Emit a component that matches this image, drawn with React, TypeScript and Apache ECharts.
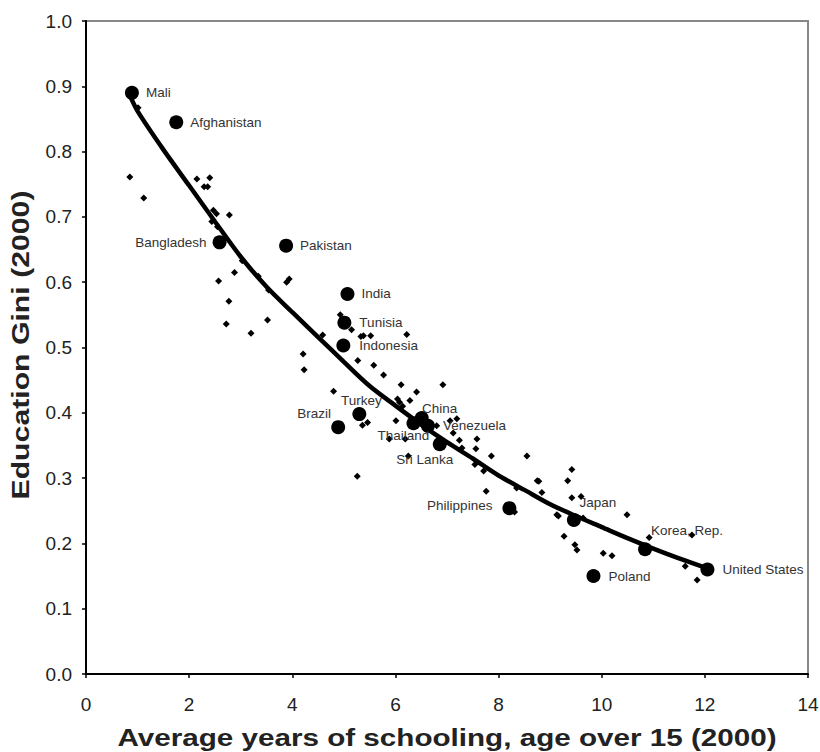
import React, { useEffect, useRef } from "react";
import * as echarts from "echarts";

// Highlighted countries: average years of schooling vs. education Gini, 2000
const countryNames = [
  "Mali", "Afghanistan", "Bangladesh", "Pakistan", "India", "Tunisia",
  "Indonesia", "Turkey", "Brazil", "China", "Thailand", "Venezuela",
  "Sri Lanka", "Philippines", "Japan", "Korea, Rep.", "Poland", "United States",
];
const countrySchooling = [
  0.89, 1.75, 2.59, 3.88, 5.07, 5.01, 4.99, 5.30, 4.89, 6.51, 6.35, 6.63,
  6.86, 8.21, 9.46, 10.84, 9.84, 12.05,
];
const countryGini = [
  0.890, 0.845, 0.661, 0.656, 0.582, 0.538, 0.503, 0.398, 0.378, 0.392, 0.384,
  0.380, 0.352, 0.254, 0.236, 0.191, 0.150, 0.160,
];

// Remaining countries
const otherSchooling = [
  1.01, 0.85, 1.12, 2.15, 2.40, 2.29, 2.36, 2.47, 2.53, 2.78, 2.44, 2.55,
  3.03, 2.88, 2.57, 2.77, 3.34, 3.54, 3.94, 3.89, 3.52, 4.93, 2.72, 3.20,
  5.15, 4.59, 5.33, 5.38, 5.52, 6.22, 4.21, 4.23, 5.27, 5.58, 5.77, 6.11,
  6.92, 6.41, 4.80, 6.04, 6.08, 6.28, 6.14, 5.36, 5.46, 6.01, 7.06, 7.19,
  6.80, 7.12, 7.24, 7.58, 7.29, 7.56, 5.88, 6.19, 6.25, 7.86, 8.55, 7.54,
  7.71, 5.26, 7.76, 8.75, 8.78, 8.84, 8.35, 8.31, 9.13, 9.42, 9.34, 9.42,
  9.60, 10.49, 9.16, 9.64, 9.27, 9.48, 9.52, 10.03, 10.20, 10.92, 11.75,
  11.62, 11.85,
];
const otherGini = [
  0.867, 0.761, 0.729, 0.758, 0.760, 0.746, 0.746, 0.710, 0.705, 0.703,
  0.693, 0.685, 0.633, 0.615, 0.602, 0.571, 0.609, 0.588, 0.605, 0.600,
  0.542, 0.550, 0.536, 0.522, 0.527, 0.519, 0.517, 0.518, 0.518, 0.520,
  0.490, 0.466, 0.480, 0.473, 0.458, 0.443, 0.443, 0.432, 0.433, 0.421,
  0.416, 0.419, 0.410, 0.381, 0.385, 0.388, 0.388, 0.391, 0.380, 0.369,
  0.358, 0.360, 0.346, 0.345, 0.360, 0.360, 0.334, 0.334, 0.334, 0.321,
  0.311, 0.303, 0.280, 0.296, 0.295, 0.278, 0.285, 0.248, 0.244, 0.313,
  0.296, 0.270, 0.272, 0.244, 0.242, 0.239, 0.211, 0.198, 0.190, 0.185,
  0.181, 0.209, 0.213, 0.165, 0.144,
];

// Fitted trend curve
const trendSchooling = [
  0.85, 1, 1.5, 2, 2.5, 3, 3.5, 4, 4.5, 5, 5.5, 6, 6.5, 7, 7.5, 8, 8.5, 9,
  9.5, 10, 10.5, 11, 11.5, 12, 12.05,
];
const trendGini = [
  0.886, 0.862, 0.803, 0.748, 0.693, 0.639, 0.593, 0.554, 0.516, 0.478,
  0.441, 0.411, 0.382, 0.355, 0.330, 0.304, 0.282, 0.260, 0.242, 0.225,
  0.208, 0.192, 0.177, 0.163, 0.161,
];

const xTicks = ["0", "2", "4", "6", "8", "10", "12", "14"];
const xTitle = "Average years of schooling, age over 15 (2000)";
const yTitle = "Education Gini (2000)";

const FONT = "Liberation Sans, Arial, sans-serif";
const LABEL_COLOR = "#333";

// Where each country's name sits relative to its dot
const labelPlacement: Record<string, any> = {
  Mali: { position: "right", distance: 7 },
  Afghanistan: { position: "right", distance: 7 },
  Bangladesh: { position: "left", distance: 6 },
  Pakistan: { position: "right", distance: 7 },
  India: { position: "right", distance: 7 },
  Tunisia: { position: "right", distance: 8 },
  Indonesia: { position: "right", distance: 9 },
  Turkey: { position: "inside", offset: [2, -14] },
  Brazil: { position: "inside", offset: [-24, -14] },
  China: { position: "inside", offset: [18, -10] },
  Thailand: { position: "inside", offset: [-10, 12] },
  Venezuela: { position: "right", distance: 8 },
  "Sri Lanka": { position: "inside", offset: [-15, 15] },
  Philippines: { position: "left", distance: 10, offset: [0, -3] },
  Japan: { position: "inside", offset: [24, -17] },
  "Korea, Rep.": { position: "inside", offset: [42, -19] },
  Poland: { position: "right", distance: 8 },
  "United States": { position: "right", distance: 8 },
};

export default function App() {
  const ref = useRef<HTMLDivElement>(null);

  useEffect(() => {
    if (!ref.current) return;
    const chart = echarts.init(ref.current, undefined, { renderer: "svg" });

    const countryData = countryNames.map((name, i) => ({
      name,
      value: [countrySchooling[i], countryGini[i]],
      label: {
        show: true,
        formatter: name,
        color: LABEL_COLOR,
        fontFamily: FONT,
        fontSize: 13.5,
        ...labelPlacement[name],
      },
    }));

    const otherData = otherSchooling.map((x, i) => [x, otherGini[i]]);
    const trendData = trendSchooling.map((x, i) => [x, trendGini[i]]);

    // Axis titles are set in a wide bold face
    const titleStyle = {
      fill: "#222",
      font: `bold 24px ${FONT}`,
      textAlign: "center",
      textVerticalAlign: "middle",
    };

    chart.setOption({
      animation: false,
      backgroundColor: "#fff",
      grid: {
        left: 86,
        right: 12,
        top: 21,
        bottom: 78,
        outerBoundsMode: "none",
        containLabel: false,
        show: true,
        borderColor: "#888",
        borderWidth: 2,
        backgroundColor: "#fff",
      },
      graphic: [
        {
          type: "text",
          x: 447,
          y: 738,
          scaleX: 1.235,
          style: { ...titleStyle, text: xTitle },
        },
        {
          type: "text",
          x: 21,
          y: 345,
          rotation: Math.PI / 2,
          scaleX: 1.26,
          style: { ...titleStyle, text: yTitle },
        },
      ],
      xAxis: {
        type: "value",
        min: 0,
        max: 14,
        interval: 2,
        axisLine: { show: true, onZero: false, lineStyle: { color: "#000", width: 2 } },
        axisTick: { show: true, inside: false, length: 4, lineStyle: { color: "#000", width: 1.5 } },
        axisLabel: {
          margin: 21,
          fontFamily: FONT,
          fontSize: 19,
          color: "#222",
          formatter: (v: number) => xTicks[Math.round(v / 2)] ?? String(v),
        },
        splitLine: { show: false },
      },
      yAxis: {
        type: "value",
        min: 0,
        max: 1,
        interval: 0.1,
        axisLine: { show: true, onZero: false, lineStyle: { color: "#000", width: 2 } },
        axisTick: { show: true, inside: false, length: 4, lineStyle: { color: "#000", width: 1.5 } },
        axisLabel: {
          margin: 14,
          fontFamily: FONT,
          fontSize: 19,
          color: "#222",
          formatter: (v: number) => v.toFixed(1),
        },
        splitLine: { show: false },
      },
      series: [
        {
          type: "scatter",
          name: "Other countries",
          data: otherData,
          symbol: "diamond",
          symbolSize: 7,
          itemStyle: { color: "#000", opacity: 1 },
          z: 2,
        },
        {
          type: "line",
          name: "Trend",
          data: trendData,
          smooth: 0.3,
          showSymbol: false,
          symbol: "none",
          lineStyle: { color: "#000", width: 4.5 },
          z: 3,
        },
        {
          type: "scatter",
          name: "Countries",
          data: countryData,
          symbol: "circle",
          symbolSize: 14,
          itemStyle: { color: "#000", opacity: 1 },
          z: 4,
        },
      ],
    });

    return () => chart.dispose();
  }, []);

  return (
    <div
      ref={ref}
      style={{ position: "absolute", left: 0, top: 0, width: 820, height: 752 }}
    />
  );
}
